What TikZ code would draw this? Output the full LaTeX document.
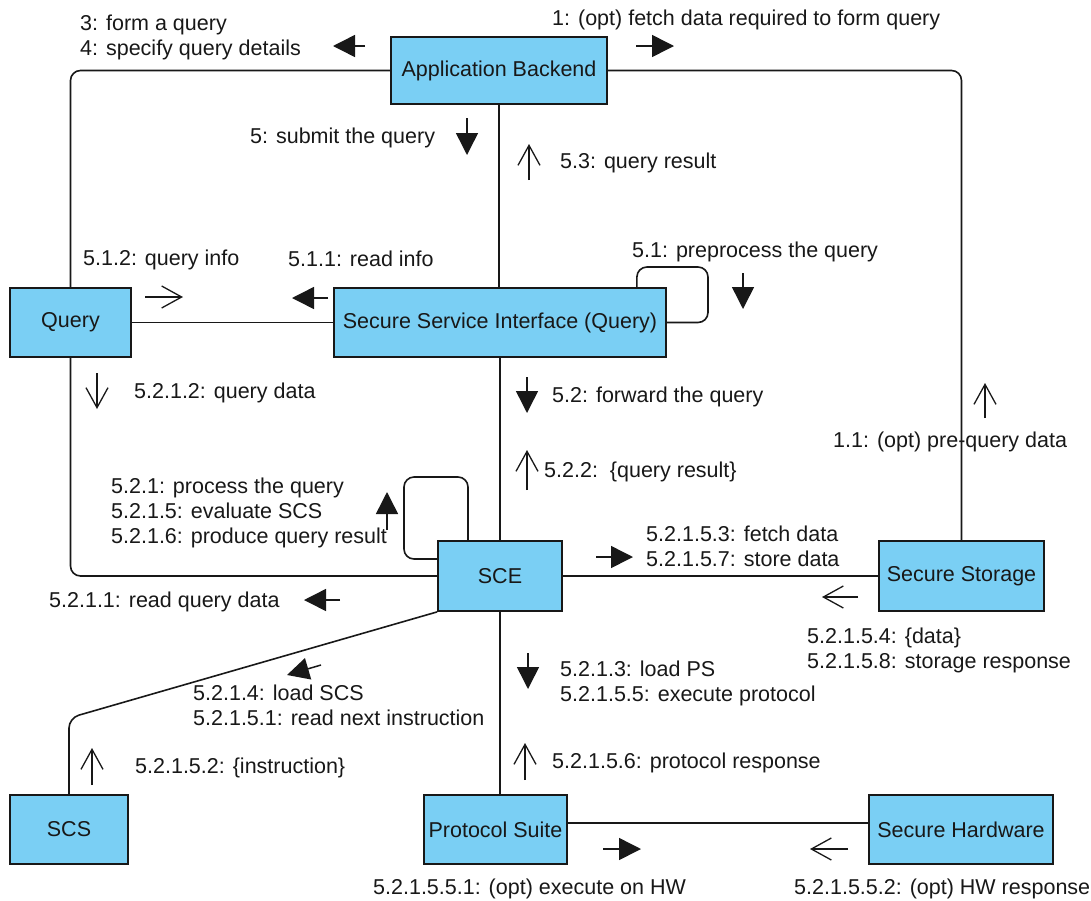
\documentclass[tikz,border=0pt]{standalone}
\usepackage{fontspec}
\setmainfont{Liberation Sans}
\usetikzlibrary{arrows.meta}
\definecolor{boxblue}{RGB}{122,207,244}
\definecolor{ink}{RGB}{24,24,24}
\newcommand\msgfont{\fontsize{21.5}{25}\selectfont}
\begin{document}
\begin{tikzpicture}[x=1pt,y=-1pt,
  obj/.style={draw=ink, line width=1.8pt, fill=boxblue, inner sep=0pt, font=\msgfont, text=ink},
  link/.style={draw=ink, line width=1.6pt, rounded corners=10pt},
  call/.style={draw=ink, line width=1.5pt, -{Triangle[length=22pt,width=22pt]}},
  reply/.style={draw=ink, line width=1.3pt, -{Straight Barb[length=20pt,width=22pt]}},
  msg/.style={anchor=base west, align=left, inner sep=0pt, font=\msgfont, text=ink}]
\useasboundingbox (0,0) rectangle (1091,900);

% objects
\node[obj, minimum width=216pt, minimum height=67pt] (ab)  at (499,70.5)   {Application Backend};
\node[obj, minimum width=121pt, minimum height=69pt] (q)   at (70.5,322.5) {Query};
\node[obj, minimum width=332pt, minimum height=69pt] (ssi) at (500,322.5)  {Secure Service Interface (Query)};
\node[obj, minimum width=124pt, minimum height=70pt] (sce) at (500,576)    {SCE};
\node[obj, minimum width=165pt, minimum height=70pt] (ss)  at (961.5,576)  {Secure Storage};
\node[obj, minimum width=118pt, minimum height=69pt] (scs) at (69,829.5)   {SCS};
\node[obj, minimum width=143pt, minimum height=69pt] (ps)  at (495.5,829.5){Protocol Suite};
\node[obj, minimum width=184pt, minimum height=69pt] (sh)  at (961,829.5)  {Secure Hardware};

% bend and loop points
\coordinate (hwrow)   at (0,823);
\coordinate (scsbend) at (69,718);
\coordinate (ssiloop) at (708,267);
\coordinate (sceloop) at (404,477);

% links between objects
\draw[link] (ab.west) -| (q.north);
\draw[link] (ab.east) -| (ss.north);
\draw[link] (ab.south) -- (ab.south |- ssi.north);
\draw[link] (ssi.south) -- (sce.north);
\draw[link] (sce.south) -- (sce.south |- ps.north);
\draw[link] (q.east) -- (ssi.west);
\draw[link] (q.south) |- (sce.west);
\draw[link] (sce.east) -- (ss.west);
\draw[link] (ps.east |- hwrow) -- (sh.west |- hwrow);
\draw[link] (sce.south west) -- (scsbend) -- (scs.north);
\draw[link] ([xshift=-30pt]ssi.north east) |- (ssiloop) |- (ssi.east);
\draw[link] ([xshift=-32pt]sce.north) |- (sceloop) |- ([yshift=17pt]sce.west);

% messages (multi-line labels are placed by the baseline of their last line)
\draw[call]  (365,46) -- (333,46);
\node[msg] (m34) at (80,55) {3: form a query\\4: specify query details};

\draw[call]  (636,46) -- (674,46);
\node[msg] (m1) at (552,25) {1: (opt) fetch data required to form query};

\draw[call]  (467,118) -- (467,155);
\node[msg] (m5) at (250,143) {5: submit the query};

\draw[reply] (529,180) -- (529,144);
\node[msg] (m53) at (560,168) {5.3: query result};

\draw[reply] (145,297) -- (183,297);
\node[msg] (m512) at (83,265) {5.1.2: query info};

\draw[call]  (328,298) -- (292,298);
\node[msg] (m511) at (288,266) {5.1.1: read info};

\draw[call]  (743,273) -- (743,309);
\node[msg] (m51) at (632,257) {5.1: preprocess the query};

\draw[reply] (97,373) -- (97,409);
\node[msg] (m5212) at (134,398) {5.2.1.2: query data};

\draw[call]  (527,377) -- (527,413);
\node[msg] (m52) at (552,402) {5.2: forward the query};

\draw[reply] (527,490) -- (527,450);
\node[msg] (m522) at (544,477) {5.2.2:\ \ \{query result\}};

\draw[reply] (985,418) -- (985,383);
\node[msg] (m11) at (833,447) {1.1: (opt) pre-query data};

\draw[call]  (387,530) -- (387,492);
\node[msg] (m521) at (111,543) {5.2.1: process the query\\5.2.1.5: evaluate SCS\\5.2.1.6: produce query result};

\draw[call]  (340,600) -- (304,600);
\node[msg] (m5211) at (49,607) {5.2.1.1: read query data};

\draw[call]  (596,557) -- (633,557);
\node[msg] (m52153) at (646,566) {5.2.1.5.3: fetch data\\5.2.1.5.7: store data};

\draw[reply] (858,597) -- (822,597);
\node[msg] (m52154) at (807,668) {5.2.1.5.4: \{data\}\\5.2.1.5.8: storage response};

\draw[call]  (321,665) -- (287,675);
\node[msg] (m5214) at (193,725) {5.2.1.4: load SCS\\5.2.1.5.1: read next instruction};

\draw[call]  (528,653) -- (528,689);
\node[msg] (m5213) at (560,701) {5.2.1.3: load PS\\5.2.1.5.5: execute protocol};

\draw[reply] (92,785) -- (92,748);
\node[msg] (m52152) at (135,773) {5.2.1.5.2: \{instruction\}};

\draw[reply] (525,780) -- (525,743);
\node[msg] (m52156) at (552,768) {5.2.1.5.6: protocol response};

\draw[call]  (603,849) -- (641,849);
\node[msg] (m521551) at (373,894) {5.2.1.5.5.1: (opt) execute on HW};

\draw[reply] (848,849) -- (810,849);
\node[msg] (m521552) at (794,894) {5.2.1.5.5.2: (opt) HW response};
\end{tikzpicture}
\end{document}
